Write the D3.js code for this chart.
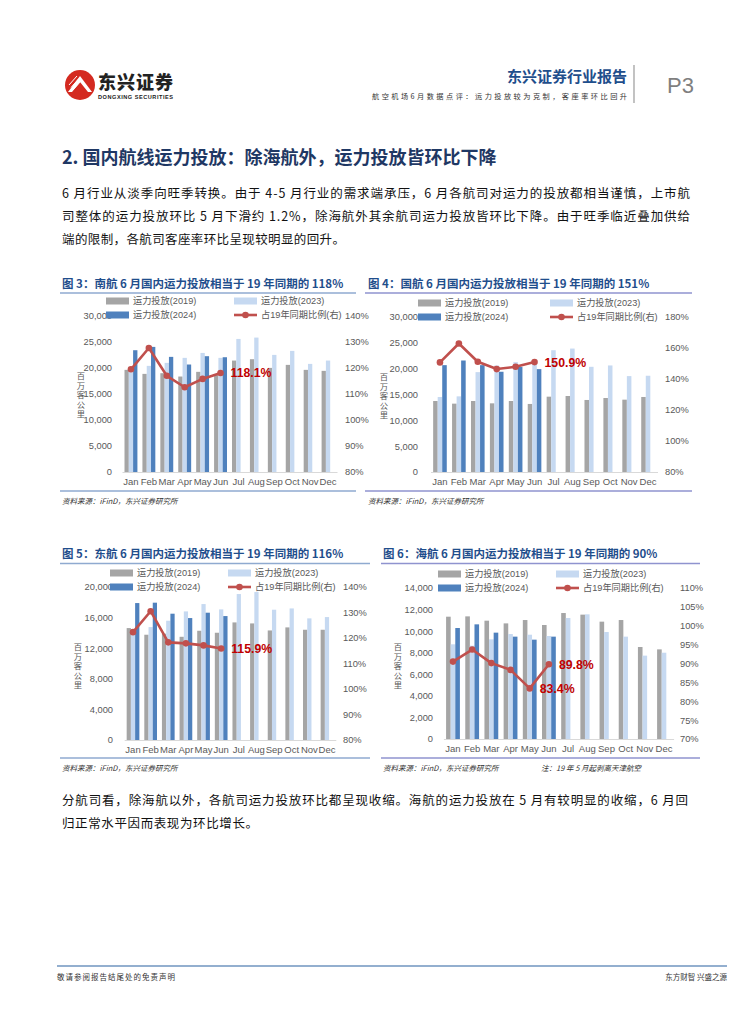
<!DOCTYPE html>
<html><head><meta charset="utf-8">
<script src="https://cdn.jsdelivr.net/npm/d3@7"></script>
<style>body{margin:0;background:#fff}svg{display:block}</style>
</head><body>
<svg id="page" width="755" height="1024"></svg>
<script>
// ---------------- DATA ----------------
const months = ["Jan","Feb","Mar","Apr","May","Jun","Jul","Aug","Sep","Oct","Nov","Dec"];
const seriesNames = ["运力投放(2019)","运力投放(2023)","运力投放(2024)","占19年同期比例(右)"];

// 图3 南航
const csn2019 = [19640,18870,19000,18360,19260,18700,21430,21690,20020,20600,19640,19450];
const csn2023 = [19400,20410,20990,21950,22900,21950,25590,25850,22520,23290,20790,21430];
const csn2024 = [23420,24060,22140,20670,22270,22070];
const csnRatio = [119.5,127.7,117.0,112.6,115.8,118.1];

// 图4 国航
const ca2019 = [13740,13230,13740,13290,13740,13170,14580,14710,13940,14320,14000,14520];
const ca2023 = [14520,14640,19330,20620,21260,20870,23570,23890,20360,20620,18560,18630];
const ca2024 = [20680,21580,20680,19400,20360,19910];
const caRatio = [150.7,162.9,151.1,146.4,147.9,150.9];

// 图5 东航
const ea2019 = [14630,13760,13900,13490,14280,14020,15370,15240,14320,14720,14410,14410];
const ea2023 = [14100,14760,15590,16810,17770,17070,19080,19340,17030,17200,15900,16070];
const ea2024 = [17900,17950,16510,15940,16640,16200];
const eaRatio = [122.3,130.5,118.3,117.9,117.1,115.9];

// 图6 海航
const hna2019 = [11340,11370,10970,10720,11030,10570,11680,11530,10880,11030,8530,8310];
const hna2023 = [8780,8650,9240,9730,9670,9550,11220,11560,9920,9490,7730,8000];
const hna2024 = [10290,10630,9860,9490,9210,9490];
const hnaRatio = [90.5,93.7,90.1,88.3,83.4,89.8];

// tick values
const ticks30k = [0,5000,10000,15000,20000,25000,30000];
const ticks20k = [0,4000,8000,12000,16000,20000];
const ticks14k = [0,2000,4000,6000,8000,10000,12000,14000];
const pct80_140 = [80,90,100,110,120,130,140];
const pct80_180 = [80,100,120,140,160,180];
const pct70_110 = [70,75,80,85,90,95,100,105,110];

// texts
const chartTitles = [
  "图 3：南航 6 月国内运力投放相当于 19 年同期的 118%",
  "图 4：国航 6 月国内运力投放相当于 19 年同期的 151%",
  "图 5：东航 6 月国内运力投放相当于 19 年同期的 116%",
  "图 6：海航 6 月国内运力投放相当于 19 年同期的 90%"
];
const sourceText = "资料来源：iFinD，东兴证券研究所";
const noteText = "注：19 年 5 月起剥离天津航空";
const yTitle = "百万客公里";
const para1 = [
  "6 月行业从淡季向旺季转换。由于 4-5 月行业的需求端承压，6 月各航司对运力的投放都相当谨慎，上市航",
  "司整体的运力投放环比 5 月下滑约 1.2%，除海航外其余航司运力投放皆环比下降。由于旺季临近叠加供给",
  "端的限制，各航司客座率环比呈现较明显的回升。"
];
const para2 = [
  "分航司看，除海航以外，各航司运力投放环比都呈现收缩。海航的运力投放在 5 月有较明显的收缩，6 月回",
  "归正常水平因而表现为环比增长。"
];

// ---------------- STYLE ----------------
const FONT = "'Liberation Sans','Noto Sans CJK SC',sans-serif";
const CJK = "'Noto Sans CJK SC','Liberation Sans',sans-serif";
const C19 = "#A5A5A5", C23 = "#C6D9F1", C24 = "#4F81BD", CR = "#C0504D", CLAB = "#C00000";
const AX = "#595959";

const svg = d3.select("#page");
svg.append("rect").attr("width",755).attr("height",1024).attr("fill","#fff");

// ---------------- HEADER ----------------
const logo = svg.append("g");
logo.append("circle").attr("cx",80).attr("cy",85).attr("r",15).attr("fill","#D42A20");
logo.append("path").attr("d","M68,92 L80,76 L92,92 L88,92 L80,82 L72,92 Z").attr("fill","#fff");
[0,1,2].forEach(i=>{
  logo.append("line").attr("x1",69+i*2).attr("y1",85+i*2.5).attr("x2",77+i*2).attr("y2",76+i*2.5)
    .attr("stroke","#fff").attr("stroke-width",1);
});
logo.append("text").attr("x",98).attr("y",89).attr("font-family",CJK).attr("font-weight",900)
  .attr("font-size",18).attr("fill","#222").attr("textLength",75).text("东兴证券");
logo.append("text").attr("x",98).attr("y",99).attr("font-family",FONT).attr("font-weight",700)
  .attr("font-size",5.6).attr("fill","#222").attr("textLength",75).text("DONGXING SECURITIES");

svg.append("text").attr("x",627).attr("y",82).attr("text-anchor","end").attr("font-family",CJK)
  .attr("font-weight",700).attr("font-size",15).attr("fill","#1F4E8C").text("东兴证券行业报告");
svg.append("text").attr("x",627).attr("y",98.5).attr("text-anchor","end").attr("font-family",CJK)
  .attr("font-size",7.2).attr("fill","#333").attr("textLength",255)
  .text("航空机场6月数据点评：运力投放较为克制，客座率环比回升");
svg.append("line").attr("x1",634).attr("x2",634).attr("y1",65).attr("y2",103).attr("stroke","#9A9A9A").attr("stroke-width",1.2);
svg.append("text").attr("x",667).attr("y",93).attr("font-family",FONT).attr("font-size",22)
  .attr("fill","#7F7F7F").text("P3");

// ---------------- SECTION HEADING & PARAGRAPHS ----------------
svg.append("text").attr("x",62).attr("y",164).attr("font-family",CJK).attr("font-weight",700)
  .attr("font-size",18).attr("fill","#1F3864").text("2. 国内航线运力投放：除海航外，运力投放皆环比下降");

function para(lines, y0, lh, widths){
  lines.forEach((t,i)=>{
    svg.append("text").attr("x",62).attr("y",y0+i*lh).attr("font-family",CJK)
      .attr("font-size",12.5).attr("fill","#111")
      .attr("textLength",widths[i]).attr("lengthAdjust","spacing").text(t);
  });
}
para(para1, 198, 23, [628,628,283]);
para(para2, 805, 22.5, [626,196]);

// ---------------- CHART FUNCTION ----------------
function drawChart(cfg){
  const g = svg.append("g");
  g.append("text").attr("x",cfg.titleX).attr("y",cfg.titleY).attr("font-family",CJK)
    .attr("font-weight",700).attr("font-size",11.5).attr("fill","#1F4E8C").text(cfg.title);
  g.append("line").attr("x1",cfg.ruleX0).attr("x2",cfg.ruleX1).attr("y1",cfg.titleY+5.5).attr("y2",cfg.titleY+5.5)
    .attr("stroke",cfg.ruleColor).attr("stroke-width",1.5);
  g.append("line").attr("x1",cfg.ruleX0).attr("x2",cfg.ruleX1).attr("y1",cfg.srcY-13).attr("y2",cfg.srcY-13)
    .attr("stroke",cfg.ruleColor).attr("stroke-width",1.5);
  g.append("text").attr("x",cfg.titleX).attr("y",cfg.srcY).attr("font-family",CJK)
    .attr("font-style","italic").attr("font-size",7.5).attr("fill","#333").text(cfg.source);

  const x = d3.scaleBand().domain(months).range([cfg.xr0,cfg.xr1]).paddingInner(0).paddingOuter(0);
  const gw = x.step()*0.72;
  const xs = d3.scaleBand().domain([0,1,2]).range([0,gw]);
  const off = (x.step()-gw)/2;
  const y = d3.scaleLinear().domain([0,cfg.yMax]).range([cfg.y0,cfg.yTop]);
  const yr = d3.scaleLinear().domain([cfg.rMin,cfg.rMax]).range([cfg.y0,cfg.yTop]);

  const la = g.append("g").attr("transform",`translate(${cfg.leftX},0)`)
    .call(d3.axisLeft(y).tickValues(cfg.yTicks).tickSize(0).tickPadding(0).tickFormat(d3.format(",")));
  la.select(".domain").remove();
  la.selectAll("text").attr("font-family",FONT).attr("font-size",9.3).attr("fill",AX);
  const ra = g.append("g").attr("transform",`translate(${cfg.rightX},0)`)
    .call(d3.axisRight(yr).tickValues(cfg.rTicks).tickSize(0).tickPadding(0).tickFormat(d=>d+"%"));
  ra.select(".domain").remove();
  ra.selectAll("text").attr("font-family",FONT).attr("font-size",9.3).attr("fill",AX);
  const ba = g.append("g").attr("transform",`translate(0,${cfg.y0})`)
    .call(d3.axisBottom(x).tickSize(0).tickPadding(6));
  ba.select(".domain").attr("stroke","#D9D9D9");
  ba.selectAll("text").attr("font-family",FONT).attr("font-size",9.5).attr("fill",AX);

  // vertical axis title: upright CJK glyphs stacked top-to-bottom
  g.append("text").attr("x",cfg.yTitleX).attr("y",cfg.yTitleY-8)
    .attr("font-family",CJK).attr("font-size",8.3).attr("fill",AX)
    .style("writing-mode","vertical-rl").attr("letter-spacing",1.2).text(yTitle);

  const series = [[cfg.s19,C19],[cfg.s23,C23],[cfg.s24,C24]];
  series.forEach(([arr,col],si)=>{
    g.append("g").selectAll("rect").data(arr).join("rect")
      .attr("x",(d,i)=>x(months[i])+off+xs(si))
      .attr("width",xs.bandwidth())
      .attr("y",d=>y(d)).attr("height",d=>cfg.y0-y(d)).attr("fill",col);
  });

  const cx = i=>x(months[i])+x.step()/2;
  g.append("path").datum(cfg.ratio)
    .attr("d",d3.line().x((d,i)=>cx(i)).y(d=>yr(d)))
    .attr("fill","none").attr("stroke",CR).attr("stroke-width",2.6).attr("stroke-linejoin","round");
  g.append("g").selectAll("circle").data(cfg.ratio).join("circle")
    .attr("cx",(d,i)=>cx(i)).attr("cy",d=>yr(d)).attr("r",3.3).attr("fill",CR);

  cfg.labels.forEach(i=>{
    g.append("text").attr("x",cx(i)+10).attr("y",yr(cfg.ratio[i])+4.5)
      .attr("font-family",FONT).attr("font-weight",700).attr("font-size",12.3).attr("fill",CLAB)
      .text(cfg.ratio[i].toFixed(1)+"%");
  });

  const L = cfg.legend;
  const items = [
    {x:L.x1,y:L.y1,type:"bar",c:C19,t:seriesNames[0]},
    {x:L.x2,y:L.y1,type:"bar",c:C23,t:seriesNames[1]},
    {x:L.x1,y:L.y2,type:"bar",c:C24,t:seriesNames[2]},
    {x:L.x2,y:L.y2,type:"line",c:CR,t:seriesNames[3]}
  ];
  items.forEach(it=>{
    if(it.type==="bar"){
      g.append("rect").attr("x",it.x).attr("y",it.y-3.5).attr("width",23).attr("height",7).attr("fill",it.c);
    } else {
      g.append("line").attr("x1",it.x).attr("x2",it.x+23).attr("y1",it.y).attr("y2",it.y)
        .attr("stroke",it.c).attr("stroke-width",2.6);
      g.append("circle").attr("cx",it.x+11.5).attr("cy",it.y).attr("r",3.3).attr("fill",it.c);
    }
    g.append("text").attr("x",it.x+27).attr("y",it.y+3.3).attr("font-family",FONT)
      .attr("font-size",9.2).attr("fill",AX).text(it.t);
  });
}

drawChart({title:chartTitles[0],titleX:62,titleY:287.5,ruleX0:60,ruleX1:356,ruleColor:"#8FAAD0",
  srcY:504,source:sourceText,
  xr0:122,xr1:337,y0:472,yTop:316,yMax:30000,yTicks:ticks30k,rMin:80,rMax:140,rTicks:pct80_140,
  leftX:112,rightX:345,yTitleX:81,yTitleY:380,
  s19:csn2019,s23:csn2023,s24:csn2024,ratio:csnRatio,labels:[5],
  legend:{x1:106,x2:234,y1:301,y2:315}});

drawChart({title:chartTitles[1],titleX:368,titleY:287.5,ruleX0:365,ruleX1:692,ruleColor:"#8F93CF",
  srcY:504,source:sourceText,
  xr0:430.5,xr1:657.5,y0:472,yTop:317,yMax:30000,yTicks:ticks30k,rMin:80,rMax:180,rTicks:pct80_180,
  leftX:418,rightX:665,yTitleX:384,yTitleY:381,
  s19:ca2019,s23:ca2023,s24:ca2024,ratio:caRatio,labels:[5],
  legend:{x1:418,x2:550,y1:303,y2:317}});

drawChart({title:chartTitles[2],titleX:62,titleY:558,ruleX0:60,ruleX1:370,ruleColor:"#8FAAD0",
  srcY:771,source:sourceText,
  xr0:124.2,xr1:335.8,y0:740,yTop:587,yMax:20000,yTicks:ticks20k,rMin:80,rMax:140,rTicks:pct80_140,
  leftX:113,rightX:343,yTitleX:78,yTitleY:651,
  s19:ea2019,s23:ea2023,s24:ea2024,ratio:eaRatio,labels:[5],
  legend:{x1:110,x2:228,y1:573,y2:587}});

drawChart({title:chartTitles[3],titleX:383,titleY:558,ruleX0:381,ruleX1:700,ruleColor:"#8F93CF",
  srcY:771,source:sourceText,
  xr0:443.4,xr1:673.6,y0:739,yTop:588,yMax:14000,yTicks:ticks14k,rMin:70,rMax:110,rTicks:pct70_110,
  leftX:433,rightX:680,yTitleX:398,yTitleY:651,
  s19:hna2019,s23:hna2023,s24:hna2024,ratio:hnaRatio,labels:[4,5],
  legend:{x1:438,x2:556,y1:574,y2:588}});

svg.append("text").attr("x",541).attr("y",771).attr("font-family",CJK).attr("font-style","italic")
  .attr("font-size",7.5).attr("fill","#333").text(noteText);

// ---------------- FOOTER ----------------
svg.append("line").attr("x1",57).attr("x2",727).attr("y1",966).attr("y2",966).attr("stroke","#6F95BF").attr("stroke-width",1.5);
svg.append("text").attr("x",57).attr("y",980).attr("font-family",CJK).attr("font-size",7.5)
  .attr("fill","#333").attr("textLength",118).text("敬请参阅报告结尾处的免责声明");
svg.append("text").attr("x",727).attr("y",980).attr("text-anchor","end").attr("font-family",CJK)
  .attr("font-size",7.5).attr("fill","#333").text("东方财智 兴盛之源");
</script>
</body></html>
